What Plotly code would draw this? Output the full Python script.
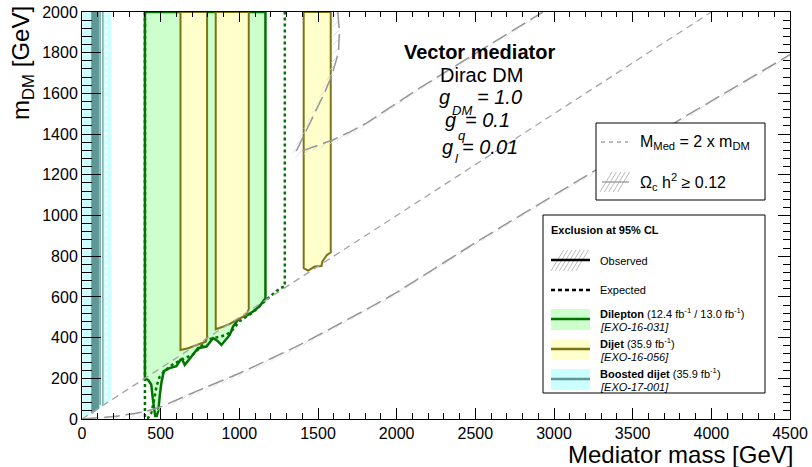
import plotly.graph_objects as go

# ---------------- data (GeV) ----------------
# M_Med = 2 x m_DM reference line
diag_x = [0, 4000]
diag_y = [0, 2000]

# relic density (Omega_c h^2 >= 0.12) curves
relic_low_x = [0, 200, 400, 500, 748, 1000, 1383, 1955, 2529, 3164, 3800, 4500]
relic_low_y = [0, 12, 36, 60, 143, 225, 364, 602, 880, 1176, 1471, 1790]
relic_up_x = [1626, 1636, 1630, 1586, 1540, 1490, 1440, 1395, 1363, 1380, 1420, 1500, 1596, 1700, 1808, 1980, 2147, 2540, 2929]
relic_up_y = [2000, 1900, 1800, 1684, 1600, 1520, 1445, 1372, 1318, 1312, 1322, 1345, 1372, 1410, 1454, 1540, 1627, 1815, 2000]

# Dilepton observed lower contour (EXO-16-031)
dilep_obs_x = [400, 420, 440, 450, 458, 465, 475, 485, 495, 505, 520, 557, 600, 625, 635,
               653, 695, 737, 791, 833, 860, 886, 939, 960, 1003, 1040, 1087, 1130, 1166]
dilep_obs_y = [200, 192, 170, 100, 40, 15, 15, 40, 120, 180, 235, 250, 260, 290, 295,
               266, 306, 348, 356, 397, 385, 364, 413, 454, 500, 505, 528, 555, 594]
# Dilepton expected contour
dilep_exp_x = [400, 400, 420, 440, 455, 473, 494, 530, 580, 621, 660, 706, 750, 791, 850,
               918, 960, 1000, 1080, 1166, 1193, 1230, 1265, 1289, 1289]
dilep_exp_y = [2000, 5, 5, 30, 80, 159, 208, 240, 270, 285, 300, 318, 350, 389, 400,
               413, 440, 480, 520, 585, 601, 625, 645, 651, 2000]

# Dijet observed lower contours (EXO-16-056), three excluded windows
dijet1_x = [626, 674, 716, 759, 786, 795]
dijet1_y = [339, 348, 359, 372, 380, 402]
dijet2_x = [850, 897, 939, 1003, 1045, 1060]
dijet2_y = [441, 454, 467, 495, 512, 540]
dijet3_x = [1409, 1437, 1479, 1522, 1528, 1558, 1581]
dijet3_y = [741, 729, 749, 752, 774, 807, 818]

# Boosted dijet (EXO-17-001)
boost_x = [5, 40, 80, 120, 150, 185]
boost_y = [5, 22, 42, 62, 78, 95]
boost_obs_band = [62, 107]
boost_obs_lines = [118, 130]
boost_white_line = 124
boost_exp_line = 152

YMAX = 2000
XMAX = 4500

# ---------------- styles ----------------
FONT = "Liberation Sans, Arial, Helvetica, sans-serif"
GREEN_F = "rgb(204,255,204)"
GREEN_L = "rgb(0,115,0)"
YEL_F = "rgb(255,255,204)"
YEL_L = "rgb(125,115,20)"
CYAN_F = "rgb(204,255,255)"
TEAL = "rgb(95,150,150)"
GRAY = "rgb(165,165,165)"

W, H = 812, 467
L, R, T, B = 82, 22, 12, 48
PW, PH = W - L - R, H - T - B


def px(x):
    return (x - L) / PW


def py(y):
    return (H - B - y) / PH


fig = go.Figure()


def region(xs, ys, fill, line, width=2.0):
    X = [xs[0]] + list(xs) + [xs[-1], xs[0]]
    Y = [YMAX] + list(ys) + [YMAX, YMAX]
    fig.add_trace(go.Scatter(x=X, y=Y, mode="lines", fill="toself", fillcolor=fill,
                             line=dict(color=line, width=width), hoverinfo="skip",
                             showlegend=False))


# boosted dijet
region(boost_x, boost_y, CYAN_F, CYAN_F, 0.5)
bx0, bx1 = boost_obs_band
fig.add_trace(go.Scatter(x=[bx0, bx1, bx1, bx0, bx0],
                         y=[YMAX, YMAX, boost_y[2] + 10, boost_y[1] + 5, YMAX],
                         mode="lines", fill="toself", fillcolor=TEAL,
                         line=dict(color=TEAL, width=1), hoverinfo="skip", showlegend=False))
for xv in boost_obs_lines:
    fig.add_trace(go.Scatter(x=[xv, xv], y=[YMAX, 70], mode="lines",
                             line=dict(color=TEAL, width=2), hoverinfo="skip", showlegend=False))
fig.add_trace(go.Scatter(x=[boost_white_line] * 2, y=[YMAX, 70], mode="lines",
                         line=dict(color="white", width=1.5), hoverinfo="skip", showlegend=False))
fig.add_trace(go.Scatter(x=[boost_exp_line] * 2, y=[YMAX, 85], mode="lines",
                         line=dict(color="white", width=2, dash="dot"), hoverinfo="skip",
                         showlegend=False))

# dilepton
region(dilep_obs_x, dilep_obs_y, GREEN_F, GREEN_L, 2.5)
fig.add_trace(go.Scatter(x=dilep_exp_x, y=dilep_exp_y, mode="lines",
                         line=dict(color=GREEN_L, width=2.5, dash="dot"), hoverinfo="skip",
                         showlegend=False))
# dijet
for xs, ys in [(dijet1_x, dijet1_y), (dijet2_x, dijet2_y), (dijet3_x, dijet3_y)]:
    region(xs, ys, YEL_F, YEL_L, 2.0)

# reference lines
fig.add_trace(go.Scatter(x=diag_x, y=diag_y, mode="lines",
                         line=dict(color=GRAY, width=1.3, dash="7px,5px"),
                         hoverinfo="skip", showlegend=False))

# hatch marks along the relic curves (short "/" strokes on the lower side)
XS = (W - L - R) / XMAX   # px per GeV
YS = (H - T - B) / YMAX


def hatch_marks(xs, ys, spacing_px=9.0, size_px=6.0):
    hx, hy = [], []
    carry = 0.0
    for i in range(len(xs) - 1):
        x0, y0, x1, y1 = xs[i], ys[i], xs[i + 1], ys[i + 1]
        dpx = ((x1 - x0) * XS, (y1 - y0) * YS)
        seglen = (dpx[0] ** 2 + dpx[1] ** 2) ** 0.5
        t = carry
        while t < seglen:
            f = t / seglen
            xa = x0 + f * (x1 - x0)
            ya = y0 + f * (y1 - y0)
            hx += [xa, xa - size_px / XS, None]
            hy += [ya, ya - size_px / YS, None]
            t += spacing_px
        carry = t - seglen
    return hx, hy


for xs, ys in [(relic_low_x, relic_low_y), (relic_up_x, relic_up_y)]:
    hx, hy = hatch_marks(xs, ys)
    fig.add_trace(go.Scatter(x=hx, y=hy, mode="lines", cliponaxis=True,
                             line=dict(color="rgb(215,215,215)", width=0.8),
                             hoverinfo="skip", showlegend=False))
fig.add_trace(go.Scatter(x=relic_low_x, y=relic_low_y, mode="lines", line_shape="spline",
                         line=dict(color="rgb(150,150,150)", width=1.5, dash="16px,6px",
                                   smoothing=0.5),
                         hoverinfo="skip", showlegend=False))
fig.add_trace(go.Scatter(x=relic_up_x, y=relic_up_y, mode="lines",
                         line=dict(color="rgb(150,150,150)", width=1.5, dash="16px,6px"),
                         hoverinfo="skip", showlegend=False))

# dummy trace for top/right tick axes
fig.add_trace(go.Scatter(x=[None], y=[None], xaxis="x2", yaxis="y2", showlegend=False))

# ---------------- axes ----------------
tickfont = dict(family=FONT, size=16, color="black")
fig.update_layout(
    width=W, height=H, margin=dict(l=L, r=R, t=T, b=B, autoexpand=False),
    paper_bgcolor="white", plot_bgcolor="white", showlegend=False,
    xaxis=dict(range=[0, XMAX], tick0=0, dtick=500, ticks="inside", ticklen=11,
               tickcolor="black", tickwidth=1, showline=True, linecolor="black",
               linewidth=1, mirror=True, showgrid=False, zeroline=False, tickfont=tickfont,
               automargin=False,
               minor=dict(dtick=100, ticks="inside", ticklen=6, tickcolor="black",
                          showgrid=False)),
    yaxis=dict(range=[0, YMAX], tick0=0, dtick=200, ticks="inside", ticklen=19,
               tickcolor="black", tickwidth=1, showline=True, linecolor="black",
               linewidth=1, mirror=True, showgrid=False, zeroline=False, tickfont=tickfont,
               automargin=False,
               minor=dict(dtick=40, ticks="inside", ticklen=10, tickcolor="black",
                          showgrid=False)),
    xaxis2=dict(range=[0, XMAX], overlaying="x", side="top", anchor="y", tick0=0,
                dtick=500, ticks="inside", ticklen=10, tickcolor="black",
                showticklabels=False, showgrid=False, zeroline=False, showline=False,
                automargin=False,
                minor=dict(dtick=100, ticks="inside", ticklen=5, tickcolor="black",
                           showgrid=False)),
    yaxis2=dict(range=[0, YMAX], overlaying="y", side="right", anchor="x", tick0=0,
                dtick=200, ticks="inside", ticklen=12, tickcolor="black",
                showticklabels=False, showgrid=False, zeroline=False, showline=False,
                automargin=False,
                minor=dict(dtick=40, ticks="inside", ticklen=7, tickcolor="black",
                           showgrid=False)),
)

# ---------------- legend boxes & text ----------------
shapes = []
ann = []


def rect(x0, y0, x1, y1, fill="white", line="black", w=1):
    shapes.append(dict(type="rect", xref="paper", yref="paper", x0=px(x0), x1=px(x1),
                       y0=py(y1), y1=py(y0), fillcolor=fill,
                       line=dict(color=line, width=w), layer="above"))


def seg(x0, y0, x1, y1, color, w=1, dash="solid"):
    shapes.append(dict(type="line", xref="paper", yref="paper", x0=px(x0), x1=px(x1),
                       y0=py(y0), y1=py(y1), line=dict(color=color, width=w, dash=dash),
                       layer="above"))


def text(x, y, s, size, xanchor="left", yanchor="middle", angle=0, color="black"):
    ann.append(dict(x=px(x), y=py(y), xref="paper", yref="paper", text=s, showarrow=False,
                    xanchor=xanchor, yanchor=yanchor, textangle=angle,
                    font=dict(family=FONT, size=size, color=color)))


def hatch(x0, y0, x1, y1, n, color="rgb(170,170,170)"):
    step = (x1 - x0) / n
    for i in range(n):
        xa = x0 + i * step
        seg(xa, y1, xa + (y1 - y0) * 0.6, y0, color, 0.8)


rect(596, 123, 765, 200)
seg(601, 142, 628, 142, GRAY, 1.3, "4px,4px")
hatch(600, 172, 622, 192, 5)
seg(602, 182, 629, 182, "rgb(150,150,150)", 1.3)
text(638, 142, "M<sub>Med</sub> = 2 x m<sub>DM</sub>", 16)
text(638, 182, "Ω<sub>c</sub> h<sup>2</sup> ≥ 0.12", 16)

rect(543, 215, 765, 393)
text(549, 230, "<b>Exclusion at 95% CL</b>", 11)
hatch(551, 250, 580, 271, 7)
seg(551, 260, 590, 260, "black", 2.5)
text(598, 261, "Observed", 11)
seg(551, 290, 590, 290, "black", 2.5, "4px,3px")
text(598, 290, "Expected", 11)
rect(551, 309, 590, 330, GREEN_F, GREEN_F, 0)
seg(551, 319, 590, 319, GREEN_L, 2.5)
rect(551, 339, 590, 360, YEL_F, YEL_F, 0)
seg(551, 349, 590, 349, YEL_L, 2.5)
rect(551, 369, 590, 390, CYAN_F, CYAN_F, 0)
seg(551, 379, 590, 379, TEAL, 2.5)
text(598, 313, "<b>Dilepton</b> (12.4 fb<sup>-1</sup> / 13.0 fb<sup>-1</sup>)", 11)
text(598, 327, "<i>[EXO-16-031]</i>", 11)
text(598, 343, "<b>Dijet</b> (35.9 fb<sup>-1</sup>)", 11)
text(598, 357, "<i>[EXO-16-056]</i>", 11)
text(598, 373, "<b>Boosted dijet</b> (35.9 fb<sup>-1</sup>)", 11)
text(598, 387, "<i>[EXO-17-001]</i>", 11)

# model annotation
text(479, 52, "<b>Vector mediator</b>", 20, xanchor="center")
text(481, 75, "Dirac DM", 20, xanchor="center")
text(437, 97, "<i>g</i>", 20)
text(450, 110, "<i>DM</i>", 13)
text(475, 97, "<i>= 1.0</i>", 20)
text(443, 120, "<i>g</i>", 20)
text(456, 135, "<i>q</i>", 13)
text(463, 120, "<i>= 0.1</i>", 20)
text(440, 147, "<i>g</i>", 20)
text(453, 158, "<i>l</i>", 13)
text(460, 147, "<i>= 0.01</i>", 20)

# axis titles
text(795, 454, "Mediator mass [GeV]", 24, xanchor="right")
text(22, 4, "m<sub>DM</sub> [GeV]", 24, xanchor="center", yanchor="top", angle=-90)

fig.update_layout(shapes=shapes, annotations=ann)
fig.write_html("out.html", config={"displayModeBar": False},
               post_script="document.body.style.margin='0px';")
